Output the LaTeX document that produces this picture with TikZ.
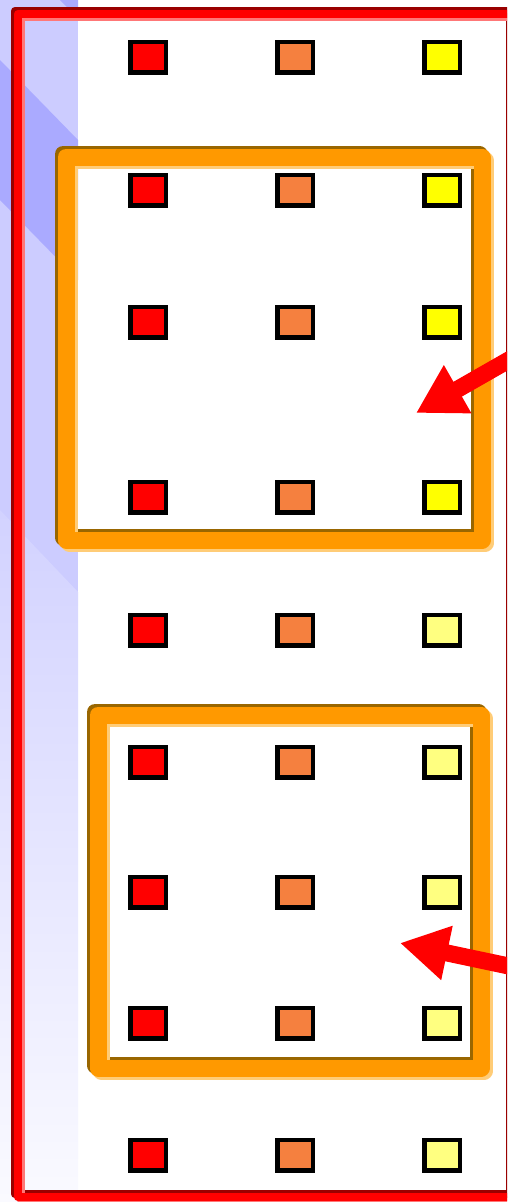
\documentclass[tikz,border=0pt]{standalone}
\usepackage{xcolor}
\usepackage{tikz}
\usetikzlibrary{arrows.meta, positioning}
\definecolor{lav}{HTML}{CCCCFF}
\definecolor{lavdark}{HTML}{AAAAFF}
\definecolor{lavpale}{HTML}{D2D2FF}
\definecolor{lavwhite}{HTML}{FAFAFF}
\definecolor{framered}{HTML}{FF0000}
\definecolor{framedark}{HTML}{990000}
\definecolor{framelight}{HTML}{FF7777}
\definecolor{boxorange}{HTML}{FF9900}
\definecolor{boxdark}{HTML}{996600}
\definecolor{boxlight}{HTML}{FFCC77}
\definecolor{sqred}{HTML}{FF0000}
\definecolor{sqorange}{HTML}{F5803F}
\definecolor{sqyellow}{HTML}{FFFF00}
\definecolor{sqpale}{HTML}{FFFF80}
\tikzset{
  cell/.style={
    draw=black,
    line width=4.5pt,
    minimum width=35.5pt,
    minimum height=30.5pt,
    inner sep=0pt
  },
  pointer/.style={
    -{Triangle[length=48pt, width=52pt]},
    line width=17pt,
    color=framered
  }
}

\begin{document}
\begin{tikzpicture}[x=1pt, y=-1pt,
  frameline/.style={line width=8.5pt, line join=round},
  boxline/.style={line width=17pt, line join=round}]

  \useasboundingbox (0,0) rectangle (507,1202);
  \clip (0,0) rectangle (507,1202);
  \fill[white] (0,0) rectangle (507,1202);

  % Left strip
  \fill[lav] (0,0) rectangle (78,1202);
  \shade[top color=lavpale, bottom color=lavwhite] (0,510) -- (78,592) -- (78,1202) -- (0,1202) -- cycle;
  \fill[lavdark] (0,60) -- (78,140) -- (78,280) -- (0,200) -- cycle;
  \fill[lavdark] (60,0) -- (78,0) -- (78,18) -- cycle;

  % Outer frame
  \foreach \off/\tone in {-3/framedark, 3/framelight, 0/framered}
    \draw[frameline, \tone] (18+\off,14+\off) rectangle (513+\off,1197+\off);

  % Orange boxes
  \foreach \off/\tone in {-3/boxdark, 3/boxlight, 0/boxorange} {
    \draw[boxline, \tone] (66+\off,157+\off) rectangle (482+\off,540+\off);
    \draw[boxline, \tone] (98+\off,715+\off) rectangle (481+\off,1068+\off);
  }

  % Squares
  \foreach \y/\tone [count=\i] in {57/sqyellow, 190/sqyellow, 322/sqyellow, 497/sqyellow,
      630/sqpale, 762/sqpale, 892/sqpale, 1023/sqpale, 1155/sqpale} {
    \node[cell, fill=sqred] (red\i) at (148,\y) {};
    \node[cell, fill=sqorange] (orange\i) at (295,\y) {};
    \node[cell, fill=\tone] (yellow\i) at (442,\y) {};
  }

  % Arrows
  \coordinate (tail1) at (535,345);
  \coordinate (tip1) at (416,413);
  \coordinate (tail2) at (537,972);
  \coordinate (tip2) at (400,943);
  \draw[pointer] (tail1) -- (tip1);
  \draw[pointer] (tail2) -- (tip2);

\end{tikzpicture}
\end{document}
